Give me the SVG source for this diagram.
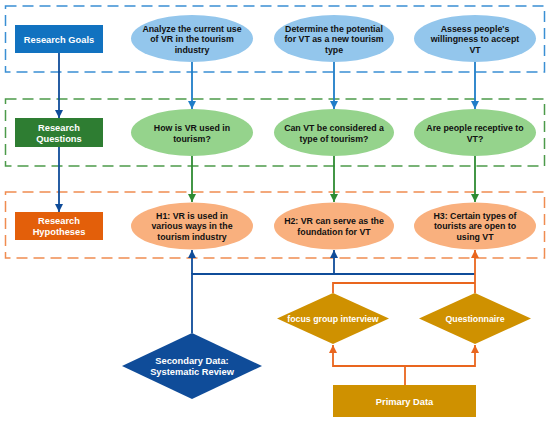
<svg xmlns="http://www.w3.org/2000/svg" width="550" height="421" viewBox="0 0 550 421">
<style>
text{font-family:"Liberation Sans",Arial,sans-serif;font-weight:bold;text-anchor:middle}
.lbl{fill:#fff;font-size:9.3px}
.el{fill:#111;font-size:8.8px}
.frame{fill:none;stroke-width:1.5;stroke-dasharray:11 6}
.c{fill:none;stroke-width:1.8}
</style>
<defs>
<marker id="aDB" markerUnits="userSpaceOnUse" markerWidth="10" markerHeight="10" refX="8" refY="4" orient="auto"><path d="M0,0 L8,4 L0,8 z" fill="#0F4C99"/></marker>
<marker id="aLB" markerUnits="userSpaceOnUse" markerWidth="10" markerHeight="10" refX="8" refY="4" orient="auto"><path d="M0,0 L8,4 L0,8 z" fill="#1F7DC8"/></marker>
<marker id="aG" markerUnits="userSpaceOnUse" markerWidth="10" markerHeight="10" refX="8" refY="4" orient="auto"><path d="M0,0 L8,4 L0,8 z" fill="#2E8B32"/></marker>
<marker id="aO" markerUnits="userSpaceOnUse" markerWidth="10" markerHeight="10" refX="8" refY="4" orient="auto"><path d="M0,0 L8,4 L0,8 z" fill="#E9661E"/></marker>
</defs>
<rect width="550" height="421" fill="#fff"/>
<g id="frames">
<rect class="frame" x="5.5" y="6" width="539" height="66" stroke="#3A8FD4"/>
<rect class="frame" x="5.5" y="99" width="539" height="67" stroke="#4C9A4A"/>
<rect class="frame" x="5.5" y="192" width="539" height="66" stroke="#F08C50"/>
</g>
<g id="connectors">
<line class="c" x1="59" y1="53" x2="59" y2="118" stroke="#0F4C99" stroke-width="2.2" marker-end="url(#aDB)"/>
<line class="c" x1="59" y1="147" x2="59" y2="212" stroke="#0F4C99" stroke-width="2.2" marker-end="url(#aDB)"/>
<line class="c" x1="192" y1="62" x2="192" y2="109" stroke="#1F7DC8" marker-end="url(#aLB)"/>
<line class="c" x1="334" y1="62" x2="334" y2="109" stroke="#1F7DC8" marker-end="url(#aLB)"/>
<line class="c" x1="475" y1="62" x2="475" y2="109" stroke="#1F7DC8" marker-end="url(#aLB)"/>
<line class="c" x1="192" y1="156" x2="192" y2="202" stroke="#2E8B32" marker-end="url(#aG)"/>
<line class="c" x1="334" y1="156" x2="334" y2="202" stroke="#2E8B32" marker-end="url(#aG)"/>
<line class="c" x1="475" y1="156" x2="475" y2="202" stroke="#2E8B32" marker-end="url(#aG)"/>
<polyline class="c" points="192,333 192,274 475,274" stroke="#0F4C99"/>
<line class="c" x1="192" y1="274" x2="192" y2="250" stroke="#0F4C99" marker-end="url(#aDB)"/>
<line class="c" x1="334" y1="274" x2="334" y2="250" stroke="#0F4C99" marker-end="url(#aDB)"/>
<polyline class="c" points="333,293 333,283 475,283" stroke="#E9661E"/>
<line class="c" x1="475" y1="293" x2="475" y2="250" stroke="#E9661E" marker-end="url(#aO)"/>
<polyline class="c" points="405,385 405,366 333,366 333,345" stroke="#E9661E" marker-end="url(#aO)"/>
<polyline class="c" points="405,366 475,366 475,345" stroke="#E9661E" marker-end="url(#aO)"/>
</g>
<g id="research-goals"><rect x="15" y="25" width="88" height="28" fill="#1172C0"/><text class="lbl" x="59" y="42.5">Research Goals</text></g>
<g id="research-questions"><rect x="15" y="118" width="88" height="29" fill="#2E7D32"/><text class="lbl" x="59" y="130.5">Research</text><text class="lbl" x="59" y="141.5">Questions</text></g>
<g id="research-hypotheses"><rect x="15" y="212" width="88" height="28" fill="#E35F0A"/><text class="lbl" x="59" y="224">Research</text><text class="lbl" x="59" y="235">Hypotheses</text></g>
<g id="goal1"><ellipse cx="192" cy="38.5" rx="61" ry="23.5" fill="#93C6EC"/><text class="el" x="192" y="31.5">Analyze the current use</text><text class="el" x="192" y="42">of VR in the tourism</text><text class="el" x="192" y="52.5">industry</text></g>
<g id="goal2"><ellipse cx="334" cy="38.5" rx="60" ry="23.5" fill="#93C6EC"/><text class="el" x="334" y="31.5">Determine the potential</text><text class="el" x="334" y="42">for VT as a new tourism</text><text class="el" x="334" y="52.5">type</text></g>
<g id="goal3"><ellipse cx="475" cy="38.5" rx="61" ry="23.5" fill="#93C6EC"/><text class="el" x="475" y="31.5">Assess people's</text><text class="el" x="475" y="42">willingness to accept</text><text class="el" x="475" y="52.5">VT</text></g>
<g id="q1"><ellipse cx="192" cy="132.5" rx="61" ry="23.5" fill="#95D38C"/><text class="el" x="192" y="131">How is VR used in</text><text class="el" x="192" y="141.5">tourism?</text></g>
<g id="q2"><ellipse cx="334" cy="132.5" rx="60" ry="23.5" fill="#95D38C"/><text class="el" x="334" y="131">Can VT be considered a</text><text class="el" x="334" y="141.5">type of tourism?</text></g>
<g id="q3"><ellipse cx="475" cy="132.5" rx="61" ry="23.5" fill="#95D38C"/><text class="el" x="475" y="131">Are people receptive to</text><text class="el" x="475" y="141.5">VT?</text></g>
<g id="h1"><ellipse cx="192" cy="226" rx="61" ry="23.5" fill="#F9B07E"/><text class="el" x="192" y="218.5">H1: VR is used in</text><text class="el" x="192" y="229">various ways in the</text><text class="el" x="192" y="239.5">tourism industry</text></g>
<g id="h2"><ellipse cx="334" cy="226" rx="60" ry="23.5" fill="#F9B07E"/><text class="el" x="334" y="224">H2: VR can serve as the</text><text class="el" x="334" y="234.5">foundation for VT</text></g>
<g id="h3"><ellipse cx="475" cy="226" rx="61" ry="23.5" fill="#F9B07E"/><text class="el" x="475" y="218.5">H3: Certain types of</text><text class="el" x="475" y="229">tourists are open to</text><text class="el" x="475" y="239.5">using VT</text></g>
<g id="secondary-data"><polygon points="192,333 262,366 192,399 122,366" fill="#0F4C99"/><text class="lbl" x="192" y="364">Secondary Data:</text><text class="lbl" x="192" y="375">Systematic Review</text></g>
<g id="focus-group"><polygon points="333,293 389,318.5 333,344 277,318.5" fill="#CF9100"/><text class="lbl" x="333" y="321.5" style="font-size:8.8px">focus group interview</text></g>
<g id="questionnaire"><polygon points="475,293 531,318.5 475,344 419,318.5" fill="#CF9100"/><text class="lbl" x="475" y="321.5" style="font-size:8.8px">Questionnaire</text></g>
<g id="primary-data"><rect x="333" y="385" width="143" height="32" fill="#CF9100"/><text class="lbl" x="404.5" y="404.5">Primary Data</text></g>
</svg>
